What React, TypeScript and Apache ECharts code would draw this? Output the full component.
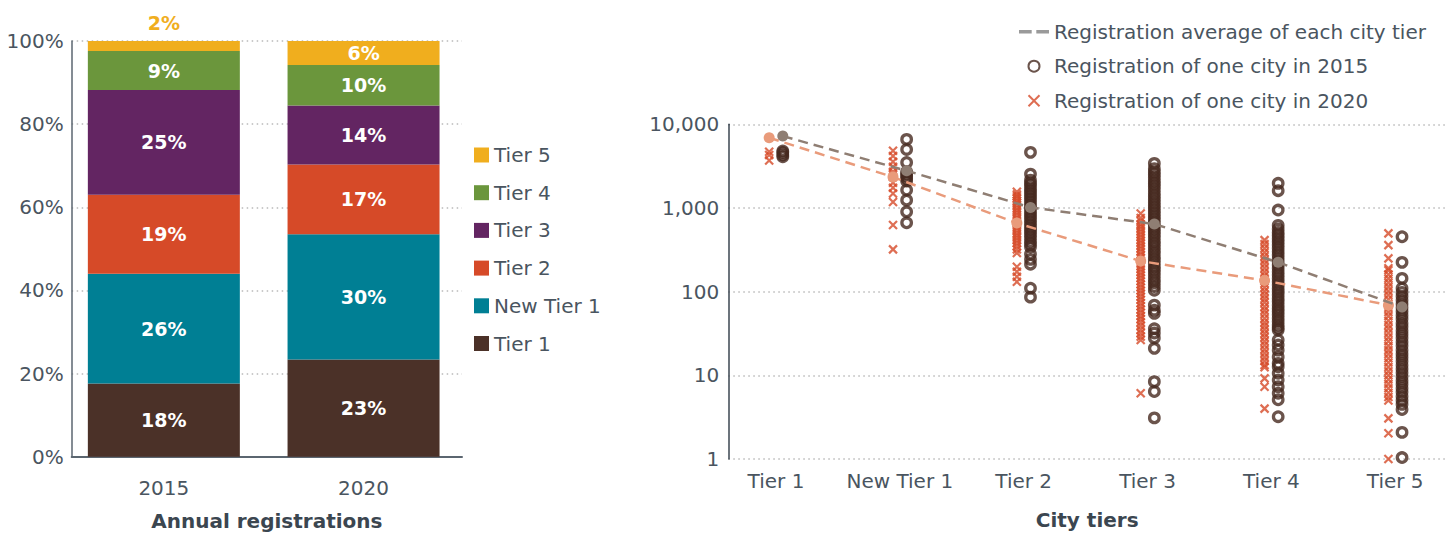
import React, { useEffect, useRef } from "react";
import * as echarts from "echarts";

// ---------- Left chart: share of annual registrations ----------
const years = ["2015", "2020"];
const tierNames = ["Tier 1", "New Tier 1", "Tier 2", "Tier 3", "Tier 4", "Tier 5"];
const share2015 = [17.6, 26.4, 19.0, 25.2, 9.4, 2.4];
const share2020 = [23.4, 30.1, 16.8, 14.2, 9.7, 5.8];
const tierColors = ["#4b3128", "#007f94", "#d64a28", "#632562", "#6b963c", "#f0ae1e"];
const percentTicks = [0, 20, 40, 60, 80, 100];

// ---------- Right chart: registrations per city (log scale) ----------
const logTicks = [1, 10, 100, 1000, 10000];
const avg2015 = [7230, 2785, 1016, 642, 224, 65.5];
const avg2020 = [6900, 2340, 660, 232, 136, 69];

const tier1_2015 = [4800, 4600, 4300, 4100];
const tier1_2020 = [12300, 4700, 4300, 3700];
const newTier1_2015 = [6600, 5000, 3500, 2700, 2550, 2400, 2250, 2100, 1640, 1240, 900, 665];
const newTier1_2020 = [4820, 4170, 3560, 3100, 2700, 2500, 2340, 2000, 1740, 1490, 1180, 625, 320];
const tier2_2015 = [4620, 2540, 2150, 1980, 1850, 1700, 1580, 1470, 1360, 1260, 1160, 1070, 990, 910, 840, 780, 720, 660, 610, 560, 520, 480, 440, 400, 370, 342, 281, 243, 213, 110, 86];
const tier2_2020 = [1560, 1450, 1380, 1300, 1220, 1150, 1080, 1000, 940, 880, 820, 760, 710, 660, 620, 580, 540, 500, 470, 440, 410, 380, 350, 320, 290, 198, 173, 151, 131];
const tier3_2015 = [3410, 2950, 2700, 2500, 2300, 2100, 1950, 1800, 1650, 1500, 1380, 1270, 1170, 1080, 1000, 920, 850, 780, 720, 660, 610, 560, 520, 480, 440, 400, 370, 340, 310, 285, 260, 240, 220, 200, 185, 170, 155, 140, 128, 115, 104, 69, 60, 55, 36, 32, 28, 21, 8.4, 6.4, 3.1];
const tier3_2020 = [860, 760, 700, 640, 600, 560, 520, 480, 445, 410, 380, 350, 325, 300, 275, 255, 235, 215, 200, 185, 170, 157, 145, 133, 122, 112, 103, 95, 87, 80, 73, 67, 61, 56, 51, 47, 43, 39, 35, 32, 29, 26.5, 6.1];
const tier4_2015 = [1970, 1610, 944, 620, 560, 510, 470, 430, 395, 360, 330, 300, 275, 250, 228, 208, 190, 173, 158, 144, 131, 120, 109, 100, 91, 83, 76, 69, 63, 58, 53, 48, 44, 40, 37, 34.8, 26.4, 23, 20, 16.6, 13.9, 12.7, 10.6, 8.8, 7.3, 6.1, 5.1, 3.2];
const tier4_2020 = [413, 370, 330, 295, 265, 238, 214, 192, 172, 155, 139, 125, 112, 101, 91, 82, 74, 66, 60, 54, 48, 43, 39, 35, 31.5, 28.5, 25.5, 23, 20.5, 18.5, 16.5, 14.8, 13.3, 12.5, 9.2, 7.3, 4.0];
const tier5_2015 = [453, 224, 144, 110, 98, 88, 79, 71, 64, 58, 52, 47, 42, 38, 34, 31, 28, 25, 22.5, 20, 18, 16.3, 14.7, 13.2, 11.9, 10.7, 9.6, 8.6, 7.8, 7, 6.3, 5.6, 5, 4.5, 3.9, 2.08, 1.04];
const tier5_2020 = [497, 360, 250, 190, 180, 160, 143, 128, 114, 102, 91, 81, 72, 64, 57, 51, 45, 40, 36, 32, 28.5, 25.5, 22.5, 20, 18, 16, 14.2, 12.6, 11.2, 10, 8.9, 7.9, 7, 6.2, 5.5, 5, 3.06, 2.03, 1.0];

const cities2015 = [tier1_2015, newTier1_2015, tier2_2015, tier3_2015, tier4_2015, tier5_2015];
const cities2020 = [tier1_2020, newTier1_2020, tier2_2020, tier3_2020, tier4_2020, tier5_2020];

const AVG_NAME = "Registration average of each city tier";
const NAME_2015 = "Registration of one city in 2015";
const NAME_2020 = "Registration of one city in 2020";

const FONT = '"DejaVu Sans", sans-serif';
const TEXT = "#4a5560";
const AXIS_DARK = "#3b4650";
const DOT = "#b9b9b9";
const FS = 20;

function buildOption() {
  const tierPos = tierNames.map((_, i) => i + 1);
  const OFF = 0.055;

  const barSeries = tierNames.map((name, i) => ({
    name,
    type: "bar",
    stack: "share",
    xAxisIndex: 0,
    yAxisIndex: 0,
    barWidth: 152,
    itemStyle: { color: tierColors[i] },
    label: {
      show: true,
      position: "inside",
      color: "#fff",
      fontSize: 19,
      fontWeight: "bold",
      fontFamily: FONT,
      formatter: (p: any) => Math.round(p.value) + "%",
    },
    data: [share2015[i], share2020[i]].map((v) =>
      v < 4
        ? { value: v, label: { position: "top", color: tierColors[i], distance: 9 } }
        : { value: v }
    ),
  }));

  const circleData = cities2015.flatMap((arr, i) => arr.map((v) => [tierPos[i] + OFF, v]));
  const crossData = cities2020.flatMap((arr, i) => arr.map((v) => [tierPos[i] - OFF, v]));

  const dotted = { show: true, lineStyle: { color: DOT, width: 1.5, type: [1.5, 3.5] } };

  return {
    animation: false,
    backgroundColor: "#ffffff",
    textStyle: { fontFamily: FONT },
    grid: [
      // 0: bars (band layout)
      { left: 64, top: 41, width: 399.4, height: 415.7, containLabel: false, outerBoundsMode: "none" },
      // 1: right log chart
      { left: 728.3, top: 124.3, width: 717.7, height: 334.7, containLabel: false, outerBoundsMode: "none" },
      // 2: left frame (axes, percent ticks, dotted lines)
      { left: 71.7, top: 41, width: 390.3, height: 415.7, containLabel: false, outerBoundsMode: "none" },
    ],
    legend: [
      {
        orient: "vertical",
        left: 469,
        top: 140,
        itemWidth: 15,
        itemHeight: 15,
        itemGap: 17.7,
        icon: "rect",
        selectedMode: false,
        textStyle: { fontSize: FS, color: TEXT, fontFamily: FONT, lineHeight: 20 },
        data: [...tierNames].reverse(),
      },
      {
        orient: "vertical",
        left: 1014,
        top: 16.7,
        itemWidth: 30,
        itemHeight: 11,
        itemGap: 14.5,
        selectedMode: false,
        textStyle: { fontSize: FS, color: TEXT, fontFamily: FONT, lineHeight: 20 },
        data: [
          {
            name: AVG_NAME,
            icon: "path://M0 0H11V3H0Z M15 0H26V3H15Z",
            itemStyle: { color: "#9a9a9a", borderWidth: 0 },
          },
          { name: NAME_2015 },
          { name: NAME_2020 },
        ],
      },
    ],
    xAxis: [
      {
        type: "category",
        gridIndex: 0,
        data: years,
        axisTick: { show: false },
        axisLine: { show: false },
        splitLine: { show: false },
        axisLabel: { fontSize: FS, color: TEXT, fontFamily: FONT, margin: 21 },
      },
      {
        type: "value",
        gridIndex: 1,
        min: 0.615,
        max: 6.41,
        splitLine: { show: false },
        axisTick: { show: false },
        axisLine: { show: false },
        axisLabel: {
          customValues: tierPos,
          formatter: (v: number) => tierNames[Math.round(v) - 1] ?? "",
          fontSize: FS,
          color: TEXT,
          fontFamily: FONT,
          margin: 12,
        },
        name: "City tiers",
        nameLocation: "middle",
        nameGap: 51,
        nameTextStyle: { fontSize: FS, fontWeight: "bold", color: AXIS_DARK, fontFamily: FONT },
      },
      {
        type: "value",
        gridIndex: 2,
        min: 0,
        max: 1,
        splitLine: { show: false },
        axisTick: { show: false },
        axisLabel: { show: false },
        axisLine: { show: true, lineStyle: { color: "#5b6670", width: 2 } },
        name: "Annual registrations",
        nameLocation: "middle",
        nameGap: 54,
        nameTextStyle: { fontSize: FS, fontWeight: "bold", color: AXIS_DARK, fontFamily: FONT },
      },
    ],
    yAxis: [
      {
        type: "value",
        gridIndex: 0,
        min: percentTicks[0],
        max: percentTicks[percentTicks.length - 1],
        show: false,
      },
      {
        type: "log",
        gridIndex: 1,
        logBase: 10,
        min: logTicks[0],
        max: logTicks[logTicks.length - 1],
        axisTick: { show: false },
        axisLine: { show: true, lineStyle: { color: AXIS_DARK, width: 1.5 } },
        axisLabel: {
          formatter: (v: number) => Math.round(v).toLocaleString("en-US"),
          fontSize: FS,
          color: TEXT,
          fontFamily: FONT,
          margin: 9,
        },
        splitLine: dotted,
      },
      {
        type: "value",
        gridIndex: 2,
        min: percentTicks[0],
        max: percentTicks[percentTicks.length - 1],
        interval: 20,
        axisTick: { show: false },
        axisLine: { show: true, lineStyle: { color: "#5b6670", width: 1.5 } },
        axisLabel: { formatter: "{value}%", fontSize: FS, color: TEXT, fontFamily: FONT, margin: 8 },
        splitLine: dotted,
      },
    ],
    series: [
      ...barSeries,
      {
        name: NAME_2015,
        type: "scatter",
        xAxisIndex: 1,
        yAxisIndex: 1,
        symbol: "circle",
        symbolSize: 9.5,
        itemStyle: { color: "rgba(0,0,0,0)", borderColor: "#46291f", borderWidth: 3.3 },
        z: 2,
        data: circleData,
      },
      {
        name: NAME_2020,
        type: "scatter",
        xAxisIndex: 1,
        yAxisIndex: 1,
        symbol: "path://M0,0L10,10M10,0L0,10",
        symbolSize: 8,
        itemStyle: { color: "rgba(0,0,0,0)", borderColor: "#d64a28", borderWidth: 2.2 },
        z: 2,
        data: crossData,
      },
      {
        name: AVG_NAME,
        type: "line",
        xAxisIndex: 1,
        yAxisIndex: 1,
        symbol: "circle",
        symbolSize: 11,
        itemStyle: { color: "#e99b7b" },
        lineStyle: { color: "#e99b7b", width: 2.5, type: [10, 6] },
        z: 3,
        data: avg2020.map((v, i) => [tierPos[i] - OFF, v]),
      },
      {
        name: AVG_NAME,
        type: "line",
        xAxisIndex: 1,
        yAxisIndex: 1,
        symbol: "circle",
        symbolSize: 11,
        itemStyle: { color: "#8f7e73" },
        lineStyle: { color: "#8f7e73", width: 2.5, type: [10, 6] },
        z: 4,
        data: avg2015.map((v, i) => [tierPos[i] + OFF, v]),
      },
    ],
  };
}

export default function App() {
  const ref = useRef<HTMLDivElement>(null);
  useEffect(() => {
    if (!ref.current) return;
    const chart = echarts.init(ref.current, null, { renderer: "svg" });
    chart.setOption(buildOption() as any);
    return () => chart.dispose();
  }, []);
  return (
    <div
      ref={ref}
      style={{ position: "fixed", left: 0, top: 0, width: 1449, height: 535, background: "#fff" }}
    />
  );
}
